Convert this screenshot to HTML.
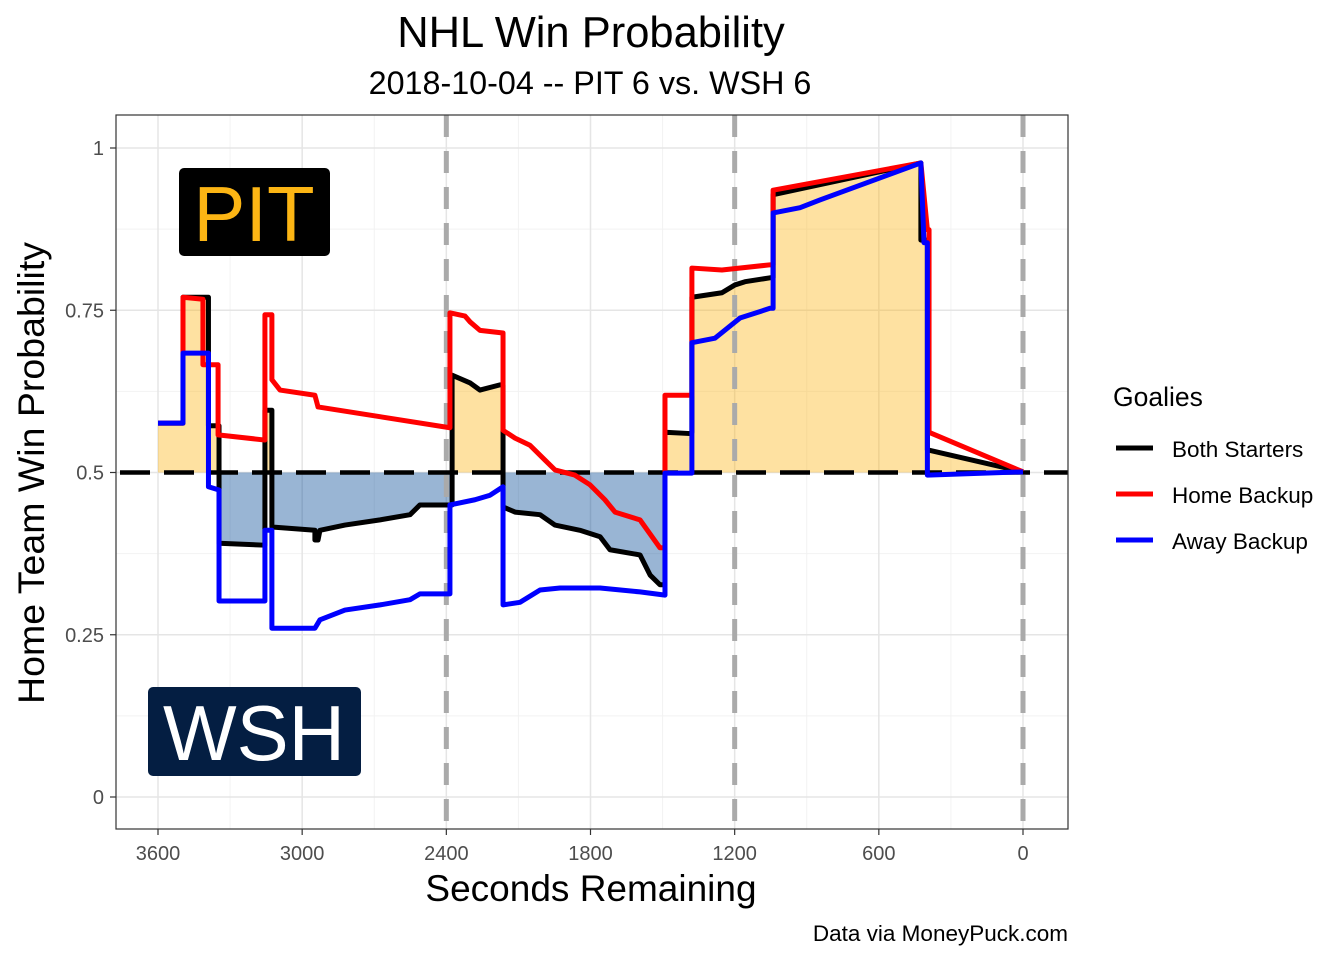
<!DOCTYPE html>
<html><head><meta charset="utf-8"><style>
body{margin:0;background:#fff;}
svg text{font-family:"Liberation Sans",Arial,sans-serif;}
</style></head><body>
<svg id="chart" width="1344" height="960" xmlns="http://www.w3.org/2000/svg">
<rect width="1344" height="960" fill="#fff"/>
<text x="591" y="47" font-size="43.5" text-anchor="middle">NHL Win Probability</text>
<text x="590" y="94" font-size="32.3" text-anchor="middle">2018-10-04 -- PIT 6 vs. WSH 6</text>
<g id="grid"></g>
<g id="fills"></g>
<g id="refs"></g>
<g id="series"></g>
<rect x="116" y="115" width="952" height="714" fill="none" stroke="#333" stroke-width="1.2"/>
<g>
<rect x="179" y="168" width="151" height="88" rx="5" fill="#000"/>
<text x="254" y="241" font-size="78" fill="#FCB514" text-anchor="middle">PIT</text></g>
<g>
<rect x="148" y="687" width="213" height="89" rx="5" fill="#041E42"/>
<text x="254" y="760" font-size="78" fill="#fff" text-anchor="middle">WSH</text></g>
<g id="axes"></g>
<text x="591" y="901" font-size="37" text-anchor="middle">Seconds Remaining</text>
<text transform="translate(44,473) rotate(-90)" font-size="37.5" text-anchor="middle">Home Team Win Probability</text>
<g>
<text x="1113" y="406" font-size="26.5">Goalies</text>
<g><line x1="1116" x2="1153" y1="448" y2="448" stroke="#000" stroke-width="5"/><text x="1172" y="457" font-size="22.5">Both Starters</text></g>
<g><line x1="1116" x2="1153" y1="494" y2="494" stroke="#f00" stroke-width="5"/><text x="1172" y="503" font-size="22.5">Home Backup</text></g>
<g><line x1="1116" x2="1153" y1="540" y2="540" stroke="#00f" stroke-width="5"/><text x="1172" y="549" font-size="22.5">Away Backup</text></g>
</g>
<text x="1068" y="941" font-size="22.5" text-anchor="end">Data via MoneyPuck.com</text>
</svg>
<script>
const xTicks=[3600,3000,2400,1800,1200,600,0];
const yTicks=[0,0.25,0.5,0.75,1];
const yTickLabels=["0","0.25","0.5","0.75","1"];
const periodEnds=[2400,1200,0];
const bothT=[3600,3496,3496,3390,3390,3346,3346,3155,3155,3126,3126,2947,2947,2934,2926,2822,2676,2551,2510,2376,2376,2301,2260,2177,2164,2164,2114,2010,1948,1844,1760,1719,1594,1552,1511,1490,1490,1386,1378,1378,1253,1199,1157,1053,1040,1040,425,425,398,398,0];
const bothV=[.576,.576,.770,.770,.572,.572,.391,.388,.596,.596,.416,.411,.396,.396,.411,.419,.427,.435,.450,.450,.650,.638,.627,.635,.635,.447,.439,.435,.419,.411,.401,.381,.373,.342,.327,.327,.562,.560,.562,.770,.777,.789,.794,.800,.800,.928,.977,.858,.858,.535,.501];
const homeT=[3600,3496,3496,3413,3413,3350,3350,3155,3155,3126,3126,3092,2947,2934,2385,2385,2322,2301,2260,2164,2164,2114,2052,1989,1948,1865,1802,1740,1698,1594,1511,1490,1490,1378,1378,1253,1053,1040,1040,425,398,391,391,0];
const homeV=[.576,.576,.770,.767,.666,.666,.558,.550,.743,.743,.643,.627,.619,.601,.569,.746,.741,.732,.719,.715,.565,.553,.542,.519,.504,.496,.481,.458,.439,.427,.384,.384,.619,.619,.815,.812,.820,.820,.935,.977,.874,.874,.562,.501];
const awayT=[3600,3496,3496,3390,3390,3346,3346,3155,3155,3126,3126,2947,2926,2822,2676,2551,2510,2385,2385,2281,2218,2164,2164,2093,2010,1927,1760,1594,1490,1490,1378,1378,1282,1178,1053,1040,1040,928,845,425,412,398,398,0];
const awayV=[.576,.576,.684,.684,.478,.473,.302,.302,.411,.411,.260,.260,.273,.288,.296,.304,.313,.313,.450,.458,.465,.478,.296,.300,.319,.322,.322,.316,.311,.499,.499,.700,.707,.738,.753,.753,.900,.908,.920,.977,.854,.854,.496,.501];

const NS="http://www.w3.org/2000/svg";
const X=t=>158+(3600-t)/3600*865;
const Y=v=>797-v*649;
function mk(tag,attrs,parent){const e=document.createElementNS(NS,tag);for(const k in attrs)e.setAttribute(k,attrs[k]);parent.appendChild(e);return e;}
const grid=document.getElementById('grid');
mk('rect',{x:116,y:115,width:952,height:714,fill:'#fff'},grid);
for(let i=0;i<yTicks.length-1;i++){const v=(yTicks[i]+yTicks[i+1])/2;const l=mk('line',{x1:116,x2:1068,y1:Y(v),y2:Y(v),stroke:'#f2f2f2','stroke-width':1},grid);

}
for(let i=0;i<xTicks.length-1;i++){const t=(xTicks[i]+xTicks[i+1])/2;const l=mk('line',{x1:X(t),x2:X(t),y1:115,y2:829,stroke:'#f2f2f2','stroke-width':1},grid);

}
yTicks.forEach(v=>{const l=mk('line',{x1:116,x2:1068,y1:Y(v),y2:Y(v),stroke:'#e5e5e5','stroke-width':1.5},grid);

});
xTicks.forEach(t=>{const l=mk('line',{x1:X(t),x2:X(t),y1:115,y2:829,stroke:'#e5e5e5','stroke-width':1.5},grid);

});

const fills=document.getElementById('fills');
const defs=mk('defs',{},fills);
const ca=mk('clipPath',{id:'above'},defs);mk('rect',{x:116,y:115,width:952,height:Y(0.5)-115},ca);
const cb=mk('clipPath',{id:'below'},defs);mk('rect',{x:116,y:Y(0.5),width:952,height:829-Y(0.5)},cb);
let d='M'+X(bothT[0])+','+Y(0.5);
bothT.forEach((t,i)=>{d+=' L'+X(t)+','+Y(bothV[i]);});
d+=' L'+X(bothT[bothT.length-1])+','+Y(0.5)+' Z';
const fa=mk('path',{d:d,fill:'rgba(252,181,20,0.4)','clip-path':'url(#above)'},fills);


const fb=mk('path',{d:d,fill:'rgba(0,70,148,0.4)','clip-path':'url(#below)'},fills);



const refs=document.getElementById('refs');
periodEnds.forEach(t=>{const l=mk('line',{x1:X(t),x2:X(t),y1:115,y2:829,stroke:'#aaaaaa','stroke-width':5,'stroke-dasharray':'22 14'},refs);

});
const hl=mk('line',{x1:116,x2:1068,y1:Y(0.5),y2:Y(0.5),stroke:'#000','stroke-width':4.5,'stroke-dasharray':'30 14','stroke-dashoffset':'-4'},refs);



const series=document.getElementById('series');
[[bothT,bothV,'#000','both-starters-line'],[homeT,homeV,'#f00','home-backup-line'],[awayT,awayV,'#00f','away-backup-line']].forEach(s=>{
const pts=s[0].map((t,i)=>X(t)+','+Y(s[1][i])).join(' ');
const p=mk('polyline',{points:pts,fill:'none',stroke:s[2],'stroke-width':5,'stroke-linejoin':'round'},series);

});

const axes=document.getElementById('axes');
xTicks.forEach(t=>{mk('line',{x1:X(t),x2:X(t),y1:829,y2:835,stroke:'#333','stroke-width':1.2},axes);
const tx=mk('text',{x:X(t),y:860,'font-size':20,fill:'#4d4d4d','text-anchor':'middle'},axes);tx.textContent=t;

});
yTicks.forEach((v,i)=>{mk('line',{x1:110,x2:116,y1:Y(v),y2:Y(v),stroke:'#333','stroke-width':1.2},axes);
const tx=mk('text',{x:104,y:Y(v)+7,'font-size':20,fill:'#4d4d4d','text-anchor':'end'},axes);tx.textContent=yTickLabels[i];

});
</script>
</body></html>
